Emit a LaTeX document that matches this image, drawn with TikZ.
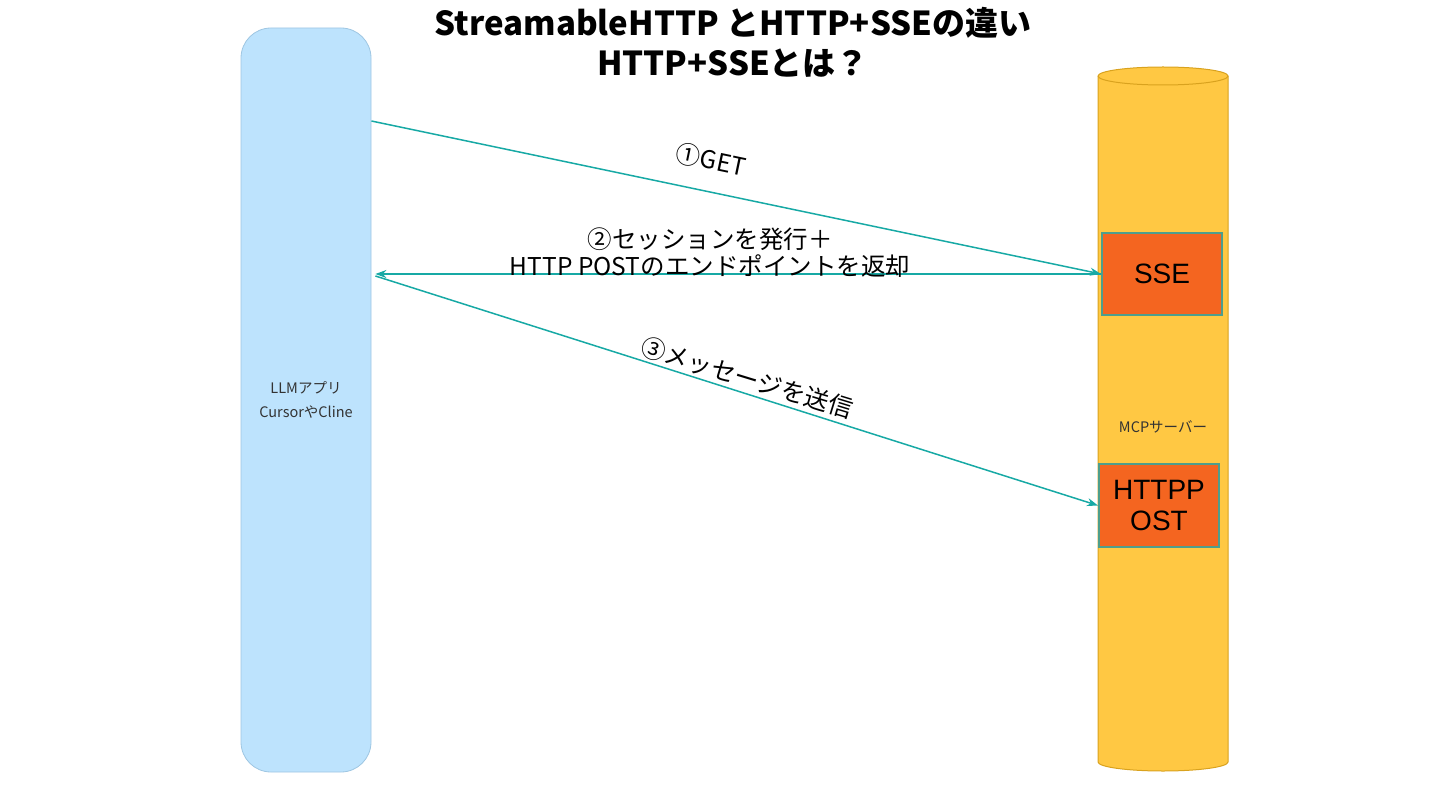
\documentclass[tikz,border=0pt]{standalone}
\usepackage{fontspec}
\setmainfont{Noto Sans CJK JP}
\newfontfamily\helv{Liberation Sans}
\usetikzlibrary{arrows.meta}
\definecolor{llmfill}{HTML}{BDE3FD}
\definecolor{llmline}{HTML}{9EC6E2}
\definecolor{cylfill}{HTML}{FFC843}
\definecolor{cylline}{HTML}{D9A21E}
\definecolor{boxfill}{HTML}{F46520}
\definecolor{boxline}{HTML}{4E9E8C}
\definecolor{arrowc}{HTML}{17A9A5}
\definecolor{txtgray}{HTML}{333333}
\tikzset{
  llmbox/.style={draw=llmline, fill=llmfill, rounded corners=30pt, line width=0.8pt,
    minimum width=130pt, minimum height=744pt, inner sep=0pt, align=center,
    font=\fontsize{14.5}{24}\selectfont, text=txtgray},
  ssebox/.style={draw=boxline, fill=boxfill, line width=2pt, minimum width=120pt,
    minimum height=82pt, inner sep=0pt, align=center, font=\helv\fontsize{28}{31}\selectfont},
  cyl/.style={fill=cylfill, draw=cylline, line width=1pt},
  conn/.style={draw=arrowc, line width=1.5pt, -{Stealth[length=11pt,width=8pt]}},
  lbl/.style={font=\fontsize{24.5}{27}\selectfont, align=center, inner sep=0pt},
  ttl/.style={font=\bfseries\fontsize{33}{40}\selectfont, align=center, inner sep=0pt}
}
\begin{document}
\begin{tikzpicture}[x=1pt,y=-1pt]
\useasboundingbox (0,0) rectangle (1440,810);
% title
\node[ttl] (title) at (733,42) {StreamableHTTP とHTTP+SSEの違い\\HTTP+SSEとは？};
% LLM app
\node[llmbox] (llm) at (306,400) {LLMアプリ\\CursorやCline};
% MCP server cylinder
\path[cyl] (1098,76) -- (1098,762) arc[start angle=180, end angle=360, x radius=65pt, y radius=9pt]
  -- (1228,76) arc[start angle=0, end angle=180, x radius=65pt, y radius=9pt] -- cycle;
\draw[cylline, line width=1pt] (1098,76) arc[start angle=180, end angle=360, x radius=65pt, y radius=9pt];
\node[font=\fontsize{14.5}{16}\selectfont, text=txtgray] (mcp) at (1163,427) {MCPサーバー};
% inner boxes
\node[ssebox] (sse) at (1162,274) {SSE};
\node[ssebox, minimum height=83pt] (post) at (1159,505.5) {HTTPP\\OST};
% connector anchors
\coordinate (a1s) at (llm.east |- 0,121);
\coordinate (a2e) at ([xshift=4pt]llm.east |- 0,274);
\coordinate (a3s) at ([xshift=4pt]llm.east |- 0,276);
\draw[conn] (a1s) -- (sse.west);
\draw[conn] (sse.west) -- (a2e);
\draw[conn] (a3s) -- (post.west);
% labels
\node[lbl, rotate=-11.8] (l1) at (711,160) {①GET};
\node[lbl] (l2) at (710,253) {②セッションを発行＋\\HTTP POSTのエンドポイントを返却};
\node[lbl, rotate=-17] (l3) at (747,378) {③メッセージを送信};
\end{tikzpicture}
\end{document}
